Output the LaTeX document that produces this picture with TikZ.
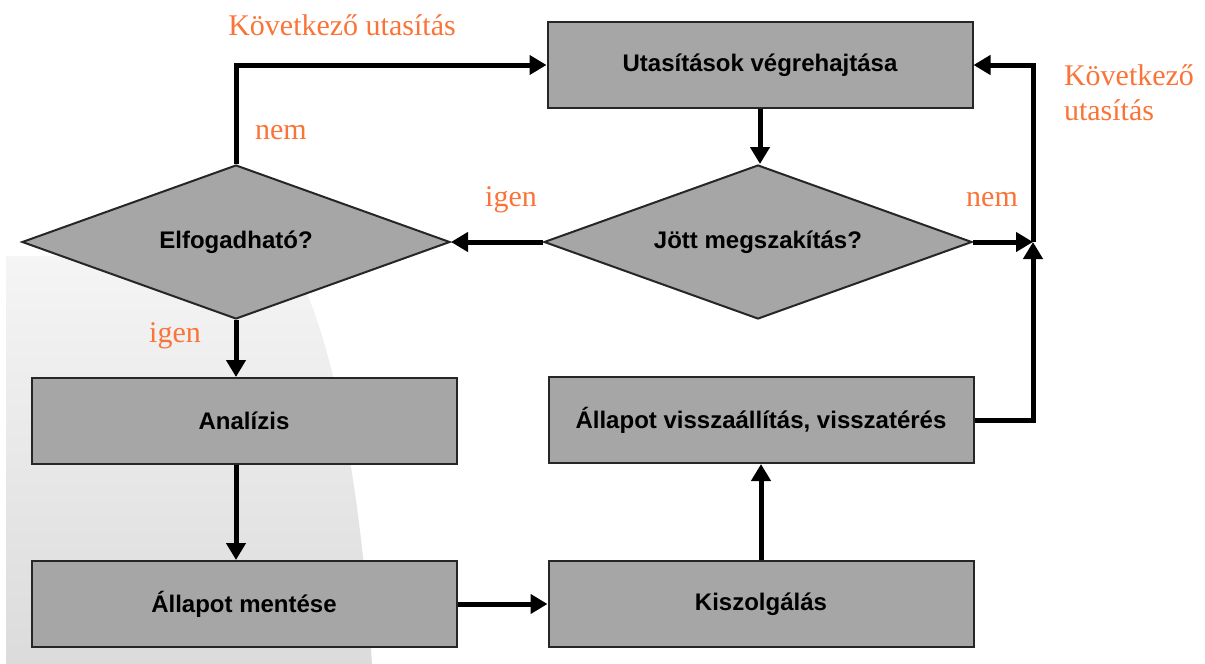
\documentclass[tikz,border=0pt]{standalone}
\usepackage{fontspec}
\setmainfont{Liberation Serif}
\setsansfont{Liberation Sans}
\usetikzlibrary{shapes.geometric,arrows.meta}
\definecolor{boxgray}{RGB}{166,166,166}
\definecolor{labelorange}{RGB}{250,115,55}

\begin{document}
\begin{tikzpicture}[x=1pt,y=-1pt,
		doboz/.style={draw=black!85,line width=2pt,fill=boxgray,minimum width=425pt,minimum height=86pt,inner sep=0pt,font=\sffamily\bfseries\fontsize{24}{28}\selectfont},
		dontes/.style={diamond,aspect=2.78,draw=black!85,line width=2pt,fill=boxgray,minimum width=428pt,minimum height=154pt,inner sep=0pt,font=\sffamily\bfseries\fontsize{24}{28}\selectfont},
		nyil/.style={line width=5pt,-{Triangle[length=17pt,width=19pt]}},
		felirat/.style={text=labelorange,font=\fontsize{30}{35}\selectfont}]
		\useasboundingbox (0,0) rectangle (1205,664);
		% halvany hatter a bal also sarokban
		\shade[top color=black!4,bottom color=black!14] (6,664) -- (6,256) -- (288,256) .. controls (335,330) and (362,500) .. (372,664) -- cycle;

		\node[doboz] (vegreh) at (760,65) {Utasítások végrehajtása};
		\node[dontes] (megsz) at (758,242) {Jött megszakítás?};
		\node[dontes] (elfog) at (236,242) {Elfogadható?};
		\node[doboz] (analizis) at (244,421) {Analízis};
		\node[doboz] (mentes) at (244,604) {Állapot mentése};
		\node[doboz] (kiszolg) at (761,604) {Kiszolgálás};
		\node[doboz] (visszaall) at (761,420) {Állapot visszaállítás, visszatérés};
		\coordinate (csomo) at (1033,242);

		\draw[nyil] (elfog.north) |- (vegreh.west);
		\draw[nyil] (vegreh.south) -- (vegreh.south |- megsz.north);
		\draw[nyil] (megsz.west) -- (elfog.east);
		\draw[nyil] (megsz.east) -- (csomo);
		\draw[nyil] (visszaall.east) -| (csomo);
		\draw[nyil] (csomo) |- (vegreh.east);
		\draw[nyil] (elfog.south) -- (elfog.south |- analizis.north);
		\draw[nyil] (elfog.south |- analizis.south) -- (elfog.south |- mentes.north);
		\draw[nyil] (mentes.east) -- (kiszolg.west);
		\draw[nyil] (kiszolg.north) -- (visszaall.south);

		\node[felirat] (kov1) at (342,25) {Következő utasítás};
		\node[felirat] (nem1) at (281,133) {nem};
		\node[felirat] (igen1) at (511,200) {igen};
		\node[felirat] (igen2) at (175,336) {igen};
		\node[felirat] (nem2) at (992,200) {nem};
		\node[felirat,align=left] (kov2) at (1129,93) {Következő\\utasítás};
	\end{tikzpicture}
\end{document}
